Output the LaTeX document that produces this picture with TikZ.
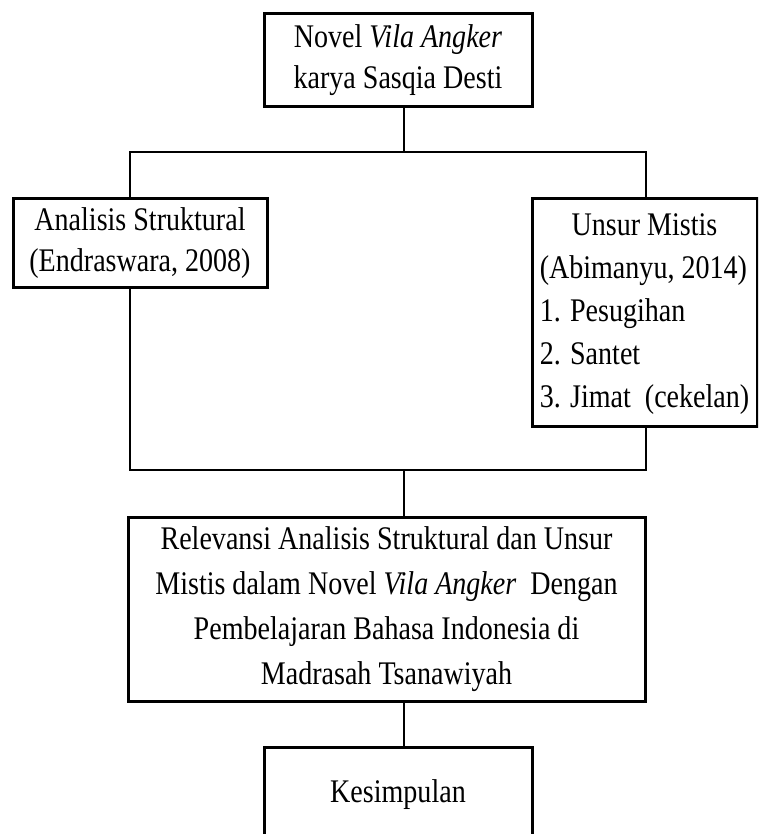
\documentclass[tikz,border=0pt]{standalone}
\usepackage{fontspec}
\setmainfont[FakeStretch=0.85]{Liberation Serif}
\tikzset{
  kotak/.style={draw, line width=3pt, align=center, inner sep=0pt,
    font=\fontsize{33}{41}\selectfont},
  garis/.style={line width=1.5pt}
}
\begin{document}
\begin{tikzpicture}[x=1pt,y=-1pt]
    \useasboundingbox (0,0) rectangle (758,834);
    \clip (0,0) rectangle (758,834);

    % Kotak atas
    \node[kotak, minimum width=268pt, minimum height=93pt] (novel) at (398,60.5)
        {Novel \textit{Vila Angker}\\karya Sasqia Desti};

    % Dua cabang
    \node[kotak, minimum width=254pt, minimum height=88pt] (struktur) at (140,243)
        {Analisis Struktural\\(Endraswara, 2008)};
    \node[kotak, minimum width=225pt, minimum height=227pt,
          font=\fontsize{33}{43}\selectfont] (mistis) at (644.5,312.5)
        {\begin{tabular}{@{}l@{}}
           \multicolumn{1}{@{}c@{}}{Unsur Mistis}\\
           (Abimanyu, 2014)\\
           1. Pesugihan\\
           2. Santet\\
           3. Jimat\ \ (cekelan)
         \end{tabular}};

    % Relevansi
    \node[kotak, minimum width=517pt, minimum height=184pt,
          font=\fontsize{33}{45}\selectfont] (relevansi) at (386.5,609)
        {Relevansi Analisis Struktural dan Unsur\\
         Mistis dalam Novel \textit{Vila Angker}\ \ Dengan\\
         Pembelajaran Bahasa Indonesia di\\
         Madrasah Tsanawiyah};

    % Kesimpulan
    \node[kotak, minimum width=268pt, minimum height=96pt] (simpulan) at (398,795)
        {Kesimpulan};

    % Titik sambungan
    \coordinate (jtop) at (404,152);
    \coordinate (jleft) at (130,152);
    \coordinate (jright) at (646,152);
    \coordinate (bleft) at (130,470);
    \coordinate (bright) at (646,470);
    \coordinate (bmid) at (404,470);

    \draw[garis] (novel.south -| jtop) -- (jtop);
    \draw[garis] (struktur.north -| jleft) -- (jleft) -- (jright) -- (mistis.north -| jright);
    \draw[garis] (struktur.south -| bleft) -- (bleft) -- (bright) -- (mistis.south -| bright);
    \draw[garis] (bmid) -- (relevansi.north -| bmid);
    \draw[garis] (relevansi.south -| bmid) -- (simpulan.north -| bmid);
\end{tikzpicture}
\end{document}
